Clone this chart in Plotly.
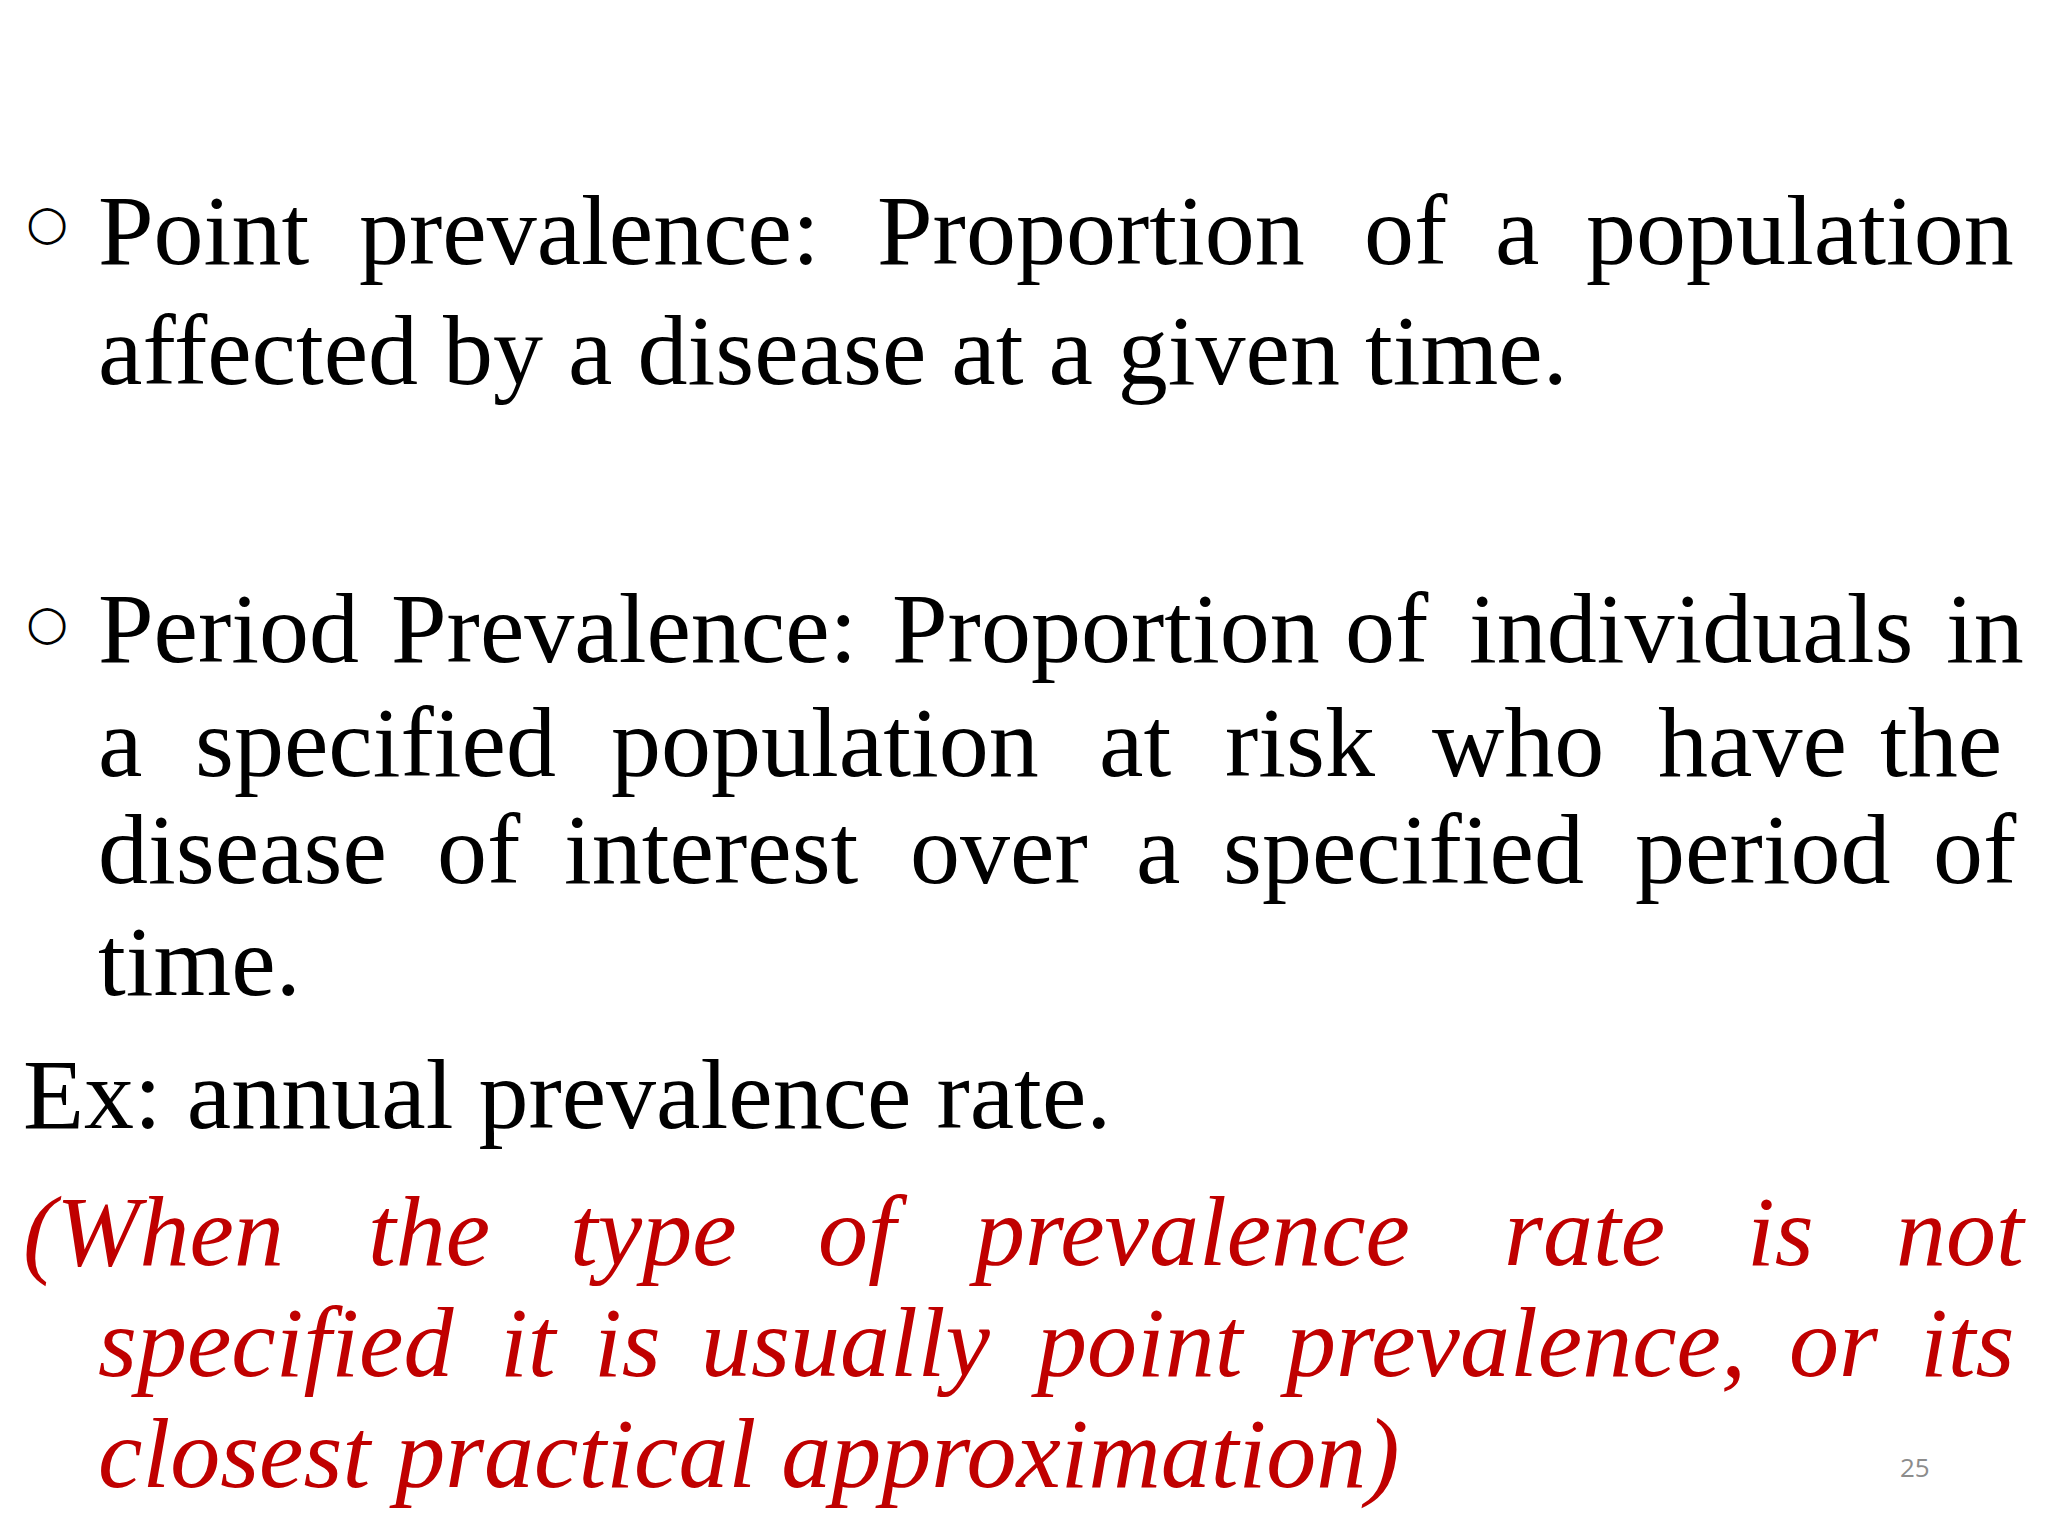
import plotly.graph_objects as go

W, H = 1568.0, 1176.0  # reference measuring scale
DX, DY = -8, -8
black = "#000000"
red = "#C00000"

# (words, left-x positions, center-y, color, italic)
lines = [
    (["Point", "prevalence:", "Proportion", "of", "a", "population"], [75, 275, 672, 1045, 1145, 1215], 178, black, False),
    (["affected by a disease at a given time."], [75], 270, black, False),
    (["Period", "Prevalence:", "Proportion", "of", "individuals", "in"], [75, 300, 683, 1030, 1125, 1490], 483, black, False),
    (["a", "specified", "population", "at", "risk", "who", "have", "the"], [75, 150, 468, 842, 938, 1097, 1270, 1440], 570, black, False),
    (["disease", "of", "interest", "over", "a", "specified", "period", "of"], [75, 335, 432, 697, 870, 937, 1252, 1480], 652, black, False),
    (["time."], [75], 738, black, False),
    (["Ex: annual prevalence rate."], [18], 840, black, False),
    (["(When", "the", "type", "of", "prevalence", "rate", "is", "not"], [18, 282, 437, 627, 742, 1152, 1338, 1452], 945, red, True),
    (["specified", "it", "is", "usually", "point", "prevalence,", "or", "its"], [75, 383, 455, 537, 790, 980, 1370, 1470], 1030, red, True),
    (["closest practical approximation)"], [75], 1115, red, True),
]
bullets_y = [172, 478]

fig = go.Figure()
ann = []
for words, xs, y, col, it in lines:
    for w, x in zip(words, xs):
        txt = f"<i>{w}</i>" if it else w
        ann.append(dict(x=(x + DX) / W, y=1 - (y + DY) / H, xref="paper", yref="paper", text=txt,
                        showarrow=False, xanchor="left", yanchor="middle",
                        font=dict(family="Liberation Serif", size=100, color=col)))
for y in bullets_y:
    ann.append(dict(x=(20 + DX) / W, y=1 - (y + DY) / H, xref="paper", yref="paper", text="○",
                    showarrow=False, xanchor="left", yanchor="middle",
                    font=dict(family="DejaVu Sans", size=48, color=black)))
ann.append(dict(x=1460 / W, y=1 - 1117 / H, xref="paper", yref="paper", text="25",
                showarrow=False, xanchor="center", yanchor="middle",
                font=dict(family="Open Sans", size=26, color="#8C8C8C")))

fig.update_layout(width=2048, height=1536, margin=dict(l=0, r=0, t=0, b=0),
                  paper_bgcolor="white", plot_bgcolor="white", annotations=ann,
                  xaxis=dict(visible=False), yaxis=dict(visible=False))
fig.write_html("out.html")
